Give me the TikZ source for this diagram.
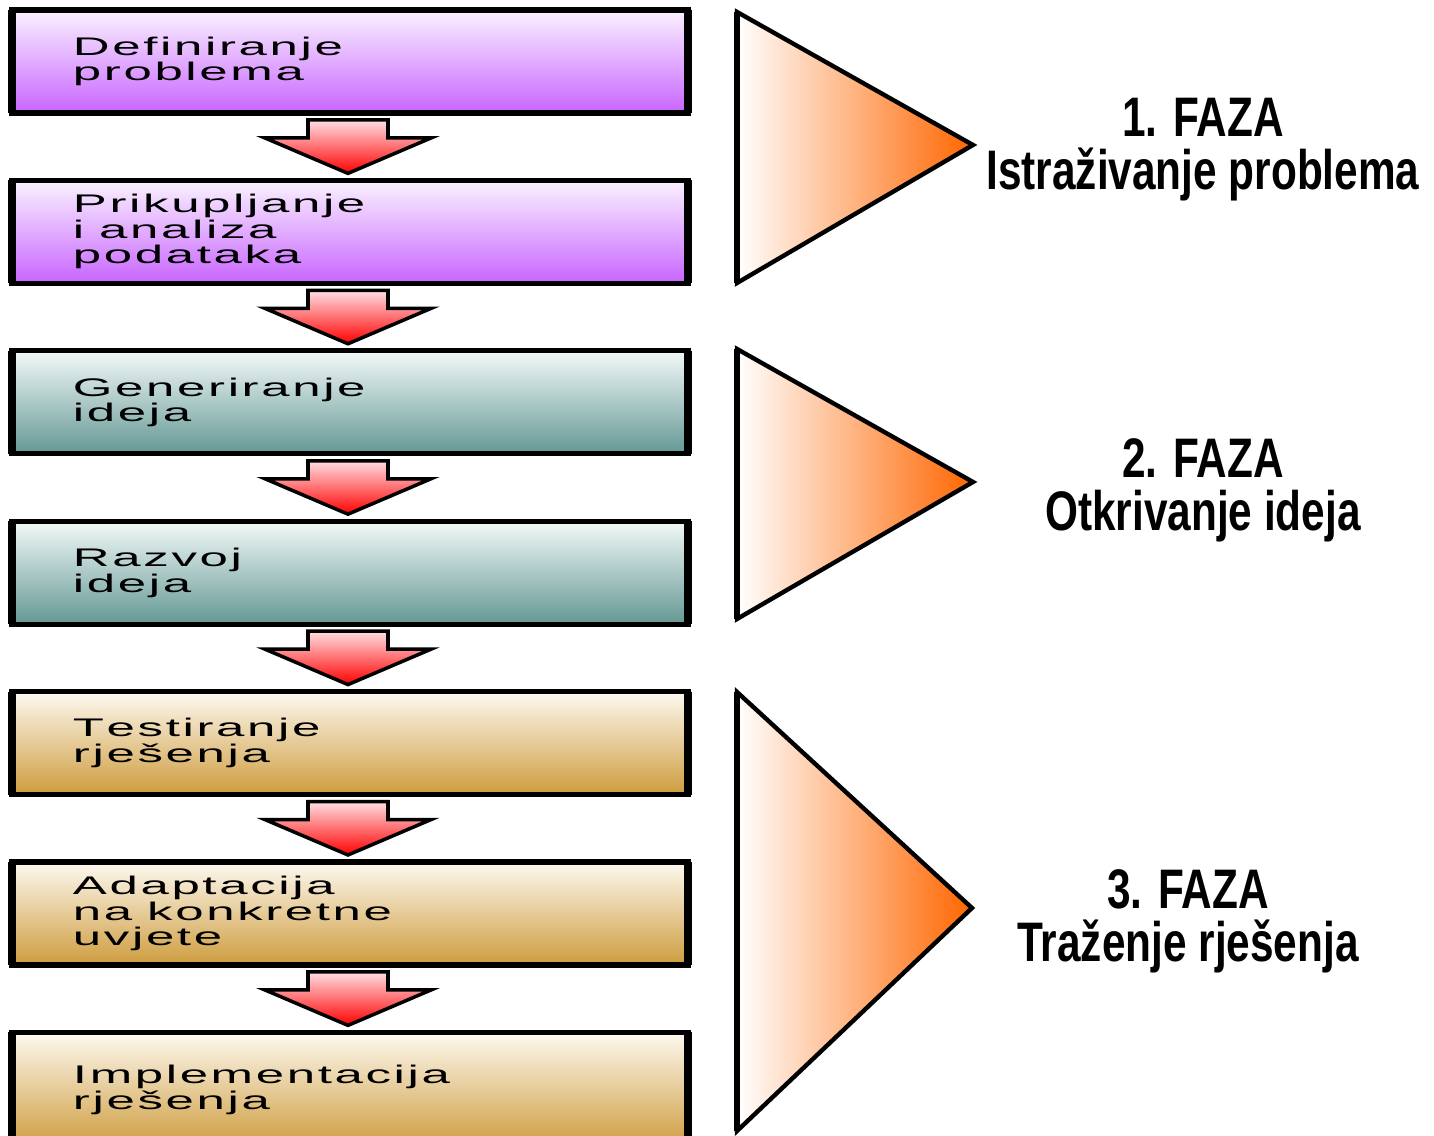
\documentclass[tikz,border=0pt]{standalone}
\usepackage{fontspec}
\usepackage{tikz}
\usetikzlibrary{positioning, calc}
\setmainfont{Liberation Sans}
\newfontfamily\boxfont[FakeStretch=2.0]{Liberation Sans}
\newfontfamily\fazafont[FakeStretch=0.76]{Liberation Sans}
% letter spacing, one word at a time
\def\spaced#1{\spacedi#1\relax}
\def\spacedi#1{\ifx\relax#1\else#1\kern1.5pt\expandafter\spacedi\fi}
\newcommand{\gap}{\hspace*{7pt}}
\definecolor{mypurple}{RGB}{200,100,255}
\definecolor{toppurple}{RGB}{250,242,255}
\definecolor{myteal}{RGB}{100,152,148}
\definecolor{topteal}{RGB}{242,249,248}
\definecolor{mygold}{RGB}{206,156,62}
\definecolor{topgold}{RGB}{253,249,240}
\definecolor{myred}{RGB}{255,0,0}
\definecolor{topred}{RGB}{255,222,226}
\definecolor{myorange}{RGB}{255,102,0}
\tikzset{
  stage/.style={rectangle, draw=black, line width=3pt, outer sep=0pt,
    minimum width=13.52cm, minimum height=2.06cm, text width=11.08cm,
    inner xsep=1.22cm, align=left, font={\boxfont\fontsize{14.5}{14.5}\selectfont}},
  purplestage/.style={stage, top color=toppurple, bottom color=mypurple},
  tealstage/.style={stage, top color=topteal, bottom color=myteal},
  goldstage/.style={stage, top color=topgold, bottom color=mygold},
  sideline/.style={line width=4.5pt, color=black},
  downarrow/.style={draw=black, line width=2pt, top color=topred,
    bottom color=myred, line join=miter},
  phase/.style={draw=black, line width=2.5pt, left color=white,
    right color=myorange, line join=miter},
  fazatext/.style={align=center, font={\fazafont\bfseries\fontsize{31.7}{30.1}\selectfont}}
}

\begin{document}
\begin{tikzpicture}[node distance=1.348cm]
  \useasboundingbox (0,0) rectangle (28.68,22.72);

  \node[purplestage] (def) at (7.0,21.49) {\spaced{Definiranje}\\\spaced{problema}};
  \node[purplestage, below=of def] (pod) {\spaced{Prikupljanje}\\\spaced{i}\gap\spaced{analiza}\\\spaced{podataka}};
  \node[tealstage, below=of pod] (gen) {\spaced{Generiranje}\\\spaced{ideja}};
  \node[tealstage, below=of gen] (raz) {\spaced{Razvoj}\\\spaced{ideja}};
  \node[goldstage, below=of raz] (test) {\spaced{Testiranje}\\\spaced{rješenja}};
  \node[goldstage, below=of test] (adapt) {\spaced{Adaptacija}\\\spaced{na}\gap\spaced{konkretne}\\\spaced{uvjete}};
  \node[goldstage, minimum height=2.3cm, below=of adapt] (impl) {\spaced{Implementacija}\\\spaced{rješenja}};

  \foreach \b in {def,pod,gen,raz,test,adapt,impl}
    \draw[sideline] (\b.north west) -- (\b.south west)
                    (\b.north east) -- (\b.south east);

  % block arrows
  \foreach \a/\b in {def/pod, pod/gen, gen/raz, raz/test, test/adapt, adapt/impl}
    \path[downarrow] ($(\a.south)+(-0.84,-0.14)$) -- ($(\a.south)+(0.76,-0.14)$)
      -- ($(\a.south)+(0.76,-0.5)$) -- ($(\a.south)+(1.62,-0.5)$)
      -- ($(\b.north)+(-0.04,0.14)$) -- ($(\a.south)+(-1.7,-0.5)$)
      -- ($(\a.south)+(-0.84,-0.5)$) -- cycle;

  % phases
  \draw[phase] (14.74,22.48) -- (19.46,19.82) -- (14.74,17.06) -- cycle;
  \draw[phase] (14.74,15.74) -- (19.46,13.08) -- (14.74,10.34) -- cycle;
  \draw[phase] (14.74,8.88) -- (19.44,4.56) -- (14.74,0.10) -- cycle;
  \draw[line width=3.5pt] (14.74,22.48) -- (14.74,17.06)
    (14.74,15.74) -- (14.74,10.34) (14.74,8.88) -- (14.74,0.10);

  \node[fazatext] (faza1) at (24.06,19.72) {1. FAZA\\Istraživanje problema};
  \node[fazatext] (faza2) at (24.06,12.92) {2. FAZA\\Otkrivanje ideja};
  \node[fazatext] (faza3) at (23.76,4.30) {3. FAZA\\Traženje rješenja};
\end{tikzpicture}
\end{document}
